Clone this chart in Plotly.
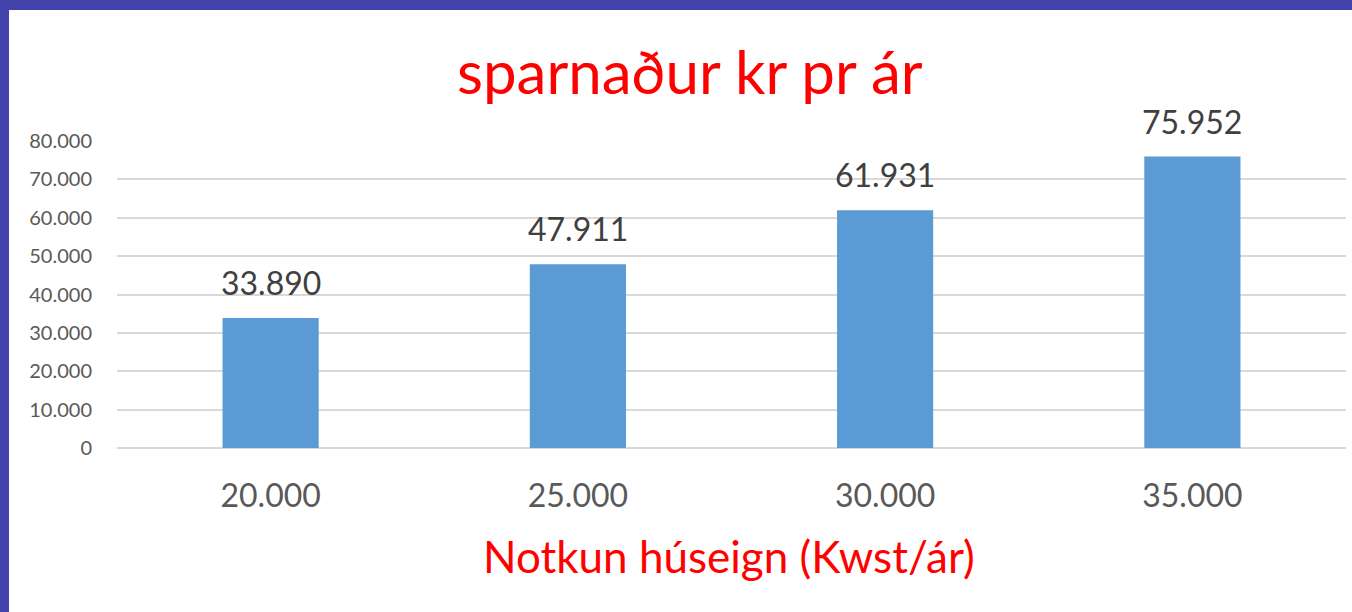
import plotly.graph_objects as go

categories = ["20.000", "25.000", "30.000", "35.000"]
values = [33890, 47911, 61931, 75952]
value_labels = ["33.890", "47.911", "61.931", "75.952"]
y_tick_vals = [0, 10000, 20000, 30000, 40000, 50000, 60000, 70000, 80000]
y_tick_text = ["0", "10.000", "20.000", "30.000", "40.000", "50.000", "60.000", "70.000", "80.000"]
title_text = "sparnaður kr pr ár"
x_title_text = "Notkun húseign (Kwst/ár)"

W, H = 1352, 612
L, R, T, B = 117, 6, 141, 164
PW, PH = W - L - R, H - T - B
BLUE = "#4343ab"

def px_x(p):
    return (p - L) / PW

def px_y(p):
    return (H - B - p) / PH

FONT = "Lato"

fig = go.Figure()
fig.add_trace(go.Bar(
    x=list(range(len(categories))), y=values,
    marker=dict(color="#5b9bd5", line=dict(width=0)),
    width=0.313,
    hoverinfo="skip",
))

annotations = []
for i, (v, t) in enumerate(zip(values, value_labels)):
    annotations.append(dict(
        x=i, y=v, xref="x", yref="y", text=t, showarrow=False,
        yanchor="bottom", yshift=14,
        font=dict(family=FONT, size=32, color="#404040"),
    ))
annotations.append(dict(
    x=px_x(690), y=px_y(71), xref="paper", yref="paper", text=title_text,
    showarrow=False, xanchor="center", yanchor="middle",
    font=dict(family=FONT, size=60, color="#ff0000"),
))
annotations.append(dict(
    x=px_x(729), y=px_y(556), xref="paper", yref="paper", text=x_title_text,
    showarrow=False, xanchor="center", yanchor="middle",
    font=dict(family=FONT, size=44, color="#ff0000"),
))

shapes = [dict(
    type="rect", xref="paper", yref="paper",
    x0=px_x(9), x1=px_x(W + 5), y0=px_y(H + 5), y1=px_y(10),
    fillcolor="#ffffff", line=dict(width=0), layer="below",
)]

fig.update_layout(
    width=W, height=H,
    margin=dict(l=L, r=R, t=T, b=B, pad=0),
    paper_bgcolor=BLUE,
    plot_bgcolor="rgba(0,0,0,0)",
    showlegend=False,
    annotations=annotations,
    shapes=shapes,
    xaxis=dict(
        range=[-0.5, len(categories) - 0.5], automargin=False,
        tickvals=list(range(len(categories))), ticktext=categories, tickangle=0,
        showgrid=False, zeroline=False, showline=False,
        ticks="outside", ticklen=20, tickcolor="rgba(0,0,0,0)",
        tickfont=dict(family=FONT, size=32, color="#595959"),
    ),
    yaxis=dict(
        range=[0, 80000], tickvals=y_tick_vals, ticktext=y_tick_text, automargin=False,
        showgrid=True, gridcolor="#d9d9d9", gridwidth=1.5,
        zeroline=True, zerolinecolor="#d9d9d9", zerolinewidth=1.5,
        showline=False, ticks="outside", ticklen=20, tickcolor="rgba(0,0,0,0)",
        tickfont=dict(family=FONT, size=20, color="#595959"),
    ),
)

fig.write_html(
    "out.html",
    config={"displayModeBar": False},
    post_script="document.body.style.margin='0';document.body.style.overflow='hidden';"
                "document.body.style.background='" + BLUE + "';",
)
